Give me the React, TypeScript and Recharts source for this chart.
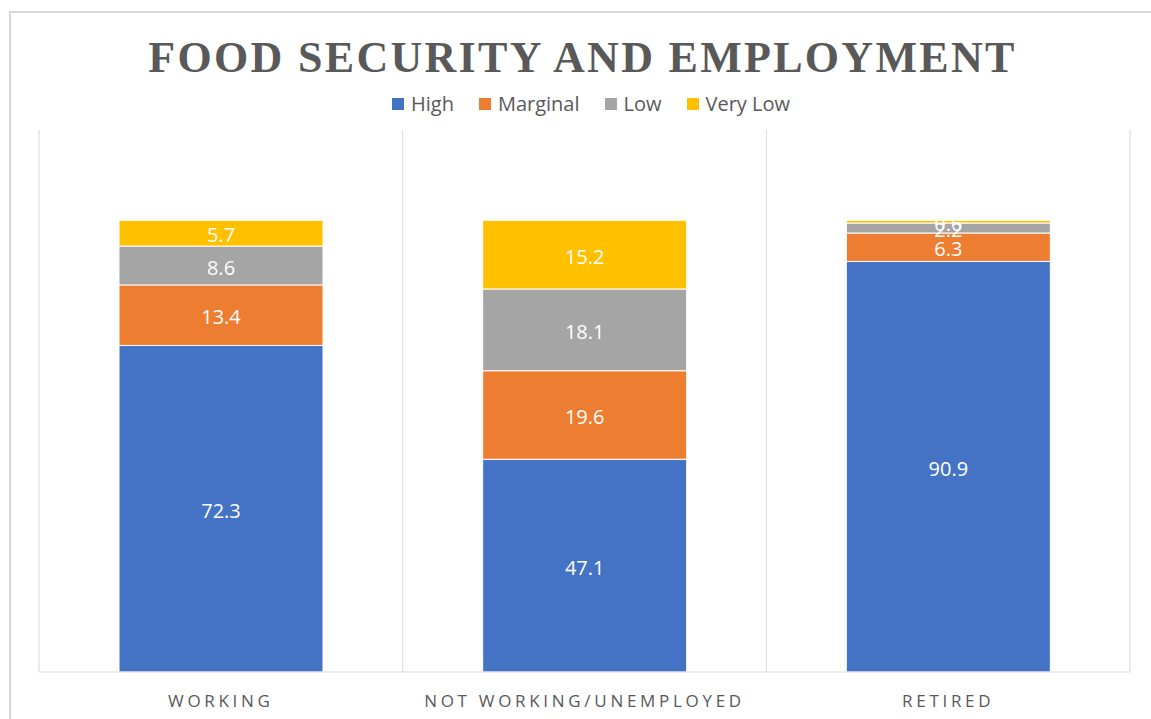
import React from "react";
import { BarChart, Bar, XAxis, YAxis, CartesianGrid, LabelList } from "recharts";

const categories = ["WORKING", "NOT WORKING/UNEMPLOYED", "RETIRED"];
const high = [72.3, 47.1, 90.9];
const marginal = [13.4, 19.6, 6.3];
const low = [8.6, 18.1, 2.2];
const veryLow = [5.7, 15.2, 0.6];

const seriesNames = ["High", "Marginal", "Low", "Very Low"];
const seriesKeys = ["high", "marginal", "low", "veryLow"];
const seriesColors = ["#4472C4", "#ED7D31", "#A5A5A5", "#FFC000"];

const data = categories.map((c, i) => ({
  name: c,
  high: high[i],
  marginal: marginal[i],
  low: low[i],
  veryLow: veryLow[i],
}));

const TEXT = "#595959";
const FONT = "'Open Sans', 'Noto Sans', sans-serif";

const CategoryTick = (props: any) => {
  const { x, y, payload } = props;
  return (
    <text
      x={x}
      y={y + 27}
      textAnchor="middle"
      fill={TEXT}
      fontFamily={FONT}
      fontSize={17}
      letterSpacing={3.7}
    >
      {payload.value}
    </text>
  );
};

const LegendBox = () => (
  <div
    style={{
      position: "absolute",
      left: 0,
      top: 90,
      width: 1182,
      display: "flex",
      justifyContent: "center",
      alignItems: "center",
      fontFamily: FONT,
      fontSize: 20,
      color: TEXT,
      gap: 25,
      lineHeight: "28px",
    }}
  >
    {seriesNames.map((n, i) => (
      <div key={n} style={{ display: "flex", alignItems: "center" }}>
        <span
          style={{
            display: "inline-block",
            width: 12,
            height: 12,
            background: seriesColors[i],
            marginRight: 7,
          }}
        />
        <span>{n}</span>
      </div>
    ))}
  </div>
);

export default function App() {
  return (
    <div
      style={{
        position: "absolute",
        left: 0,
        top: 0,
        width: 1151,
        height: 719,
        overflow: "hidden",
        background: "#fff",
      }}
    >
      <div
        style={{
          position: "absolute",
          left: 9,
          top: 11,
          width: 1200,
          height: 800,
          border: "2px solid #d9d9d9",
          boxSizing: "border-box",
        }}
      />
      <div
        style={{
          position: "absolute",
          left: 0,
          top: 32,
          width: 1165,
          textAlign: "center",
          fontFamily: "'Liberation Serif', 'DejaVu Serif', serif",
          fontWeight: "bold",
          fontSize: 44,
          letterSpacing: 2.3,
          color: TEXT,
          lineHeight: "52px",
        }}
      >
        FOOD SECURITY AND EMPLOYMENT
      </div>
      <LegendBox />
      <div style={{ position: "absolute", left: 0, top: 0 }}>
        <BarChart
          width={1151}
          height={719}
          data={data}
          margin={{ top: 130, right: 21, bottom: 17, left: 39 }}
          barCategoryGap="22%"
        >
          <CartesianGrid
            horizontal={false}
            stroke="#d9d9d9"
            verticalCoordinatesGenerator={({ offset }: any) => {
              const w = offset.width / categories.length;
              return categories
                .map((_, i) => offset.left + i * w)
                .concat([offset.left + offset.width]);
            }}
          />
          <XAxis
            dataKey="name"
            tickLine={false}
            axisLine={{ stroke: "#d9d9d9" }}
            tick={<CategoryTick />}
            interval={0}
            height={30}
          />
          <YAxis hide domain={[0, 120]} />
          {seriesKeys.map((k, i) => (
            <Bar
              key={k}
              dataKey={k}
              name={seriesNames[i]}
              stackId="a"
              fill={seriesColors[i]}
              stroke="#ffffff"
              strokeWidth={1}
              isAnimationActive={false}
            >
              <LabelList
                dataKey={k}
                position="center"
                fill="#ffffff"
                fontFamily={FONT}
                fontSize={20}
                dy={2}
              />
            </Bar>
          ))}
        </BarChart>
      </div>
    </div>
  );
}
